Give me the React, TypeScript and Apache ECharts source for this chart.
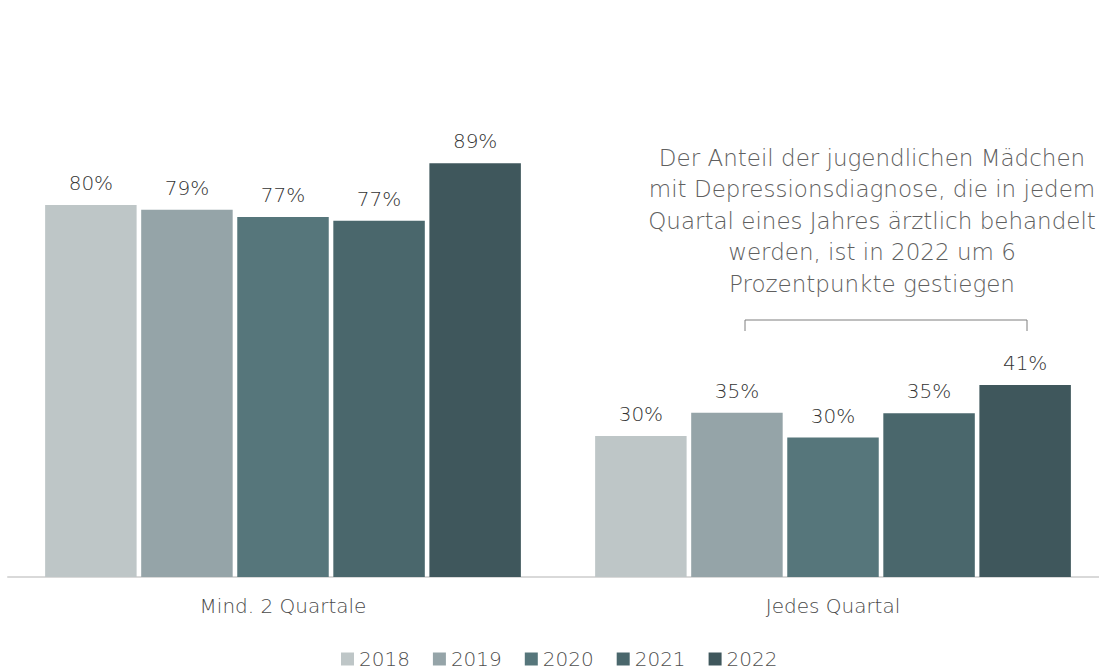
import React, { useEffect, useRef } from "react";
import * as echarts from "echarts";

const categories = ["Mind. 2 Quartale", "Jedes Quartal"];
const years = ["2018", "2019", "2020", "2021", "2022"];
const colors = ["#BEC6C7", "#95A4A8", "#56767B", "#4A676C", "#3F575C"];
const values2018 = [80.0, 30.3];
const values2019 = [79.0, 35.3];
const values2020 = [77.4, 30.0];
const values2021 = [76.6, 35.2];
const values2022 = [89.0, 41.3];
const seriesValues = [values2018, values2019, values2020, values2021, values2022];
const annotation =
  "Der Anteil der jugendlichen Mädchen\nmit Depressionsdiagnose, die in jedem\nQuartal eines Jahres ärztlich behandelt\nwerden, ist in 2022 um 6\nProzentpunkte gestiegen";

const FONT = "DejaVu Sans";
const W = 300;

export default function App() {
  const ref = useRef<HTMLDivElement>(null);
  useEffect(() => {
    if (!ref.current) return;
    const chart = echarts.init(ref.current, undefined, { renderer: "svg" });
    chart.setOption({
      animation: false,
      backgroundColor: "#ffffff",
      textStyle: { fontFamily: FONT },
      grid: { left: 8, width: 1100, top: 112, height: 465, containLabel: false },
      legend: {
        left: 341,
        top: 647,
        padding: 0,
        itemWidth: 13,
        itemHeight: 13,
        itemGap: 23,
        icon: "rect",
        textStyle: { fontSize: 20, lineHeight: 24, color: "#4f4f4f", fontFamily: FONT, fontWeight: W },
        data: years,
      },
      xAxis: {
        type: "category",
        data: categories,
        axisLine: { lineStyle: { color: "#D9D9D9", width: 2 } },
        axisTick: { show: false },
        axisLabel: { fontSize: 20, color: "#4a4a4a", margin: 19, fontFamily: FONT, fontWeight: W },
      },
      yAxis: {
        type: "value",
        min: 0,
        max: 100,
        show: false,
        splitLine: { show: false },
      },
      series: years.map((y, i) => ({
        name: y,
        type: "bar",
        data: seriesValues[i],
        barCategoryGap: "13.5%",
        barGap: "5%",
        itemStyle: { color: colors[i] },
        label: {
          show: true,
          position: "top",
          distance: 12,
          fontSize: 20,
          color: "#333333",
          fontFamily: FONT,
          fontWeight: W,
          formatter: (p: any) => Math.round(p.value) + "%",
        },
      })),
      graphic: [
        {
          type: "text",
          x: 872,
          y: 142,
          style: {
            text: annotation,
            textAlign: "center",
            textVerticalAlign: "top",
            fontSize: 23,
            lineHeight: 31.5,
            fill: "#606060",
            fontFamily: FONT,
            fontWeight: W,
          },
        },
        {
          type: "polyline",
          shape: { points: [[745, 331], [745, 320], [1027, 320], [1027, 331]] },
          style: { stroke: "#7F7F7F", lineWidth: 1, fill: null },
        },
      ],
    });
    return () => chart.dispose();
  }, []);
  return (
    <div style={{ position: "fixed", left: 0, top: 0, width: 1099, height: 671, overflow: "hidden", background: "#fff" }}>
      <div ref={ref} style={{ width: 1110, height: 671 }} />
    </div>
  );
}
